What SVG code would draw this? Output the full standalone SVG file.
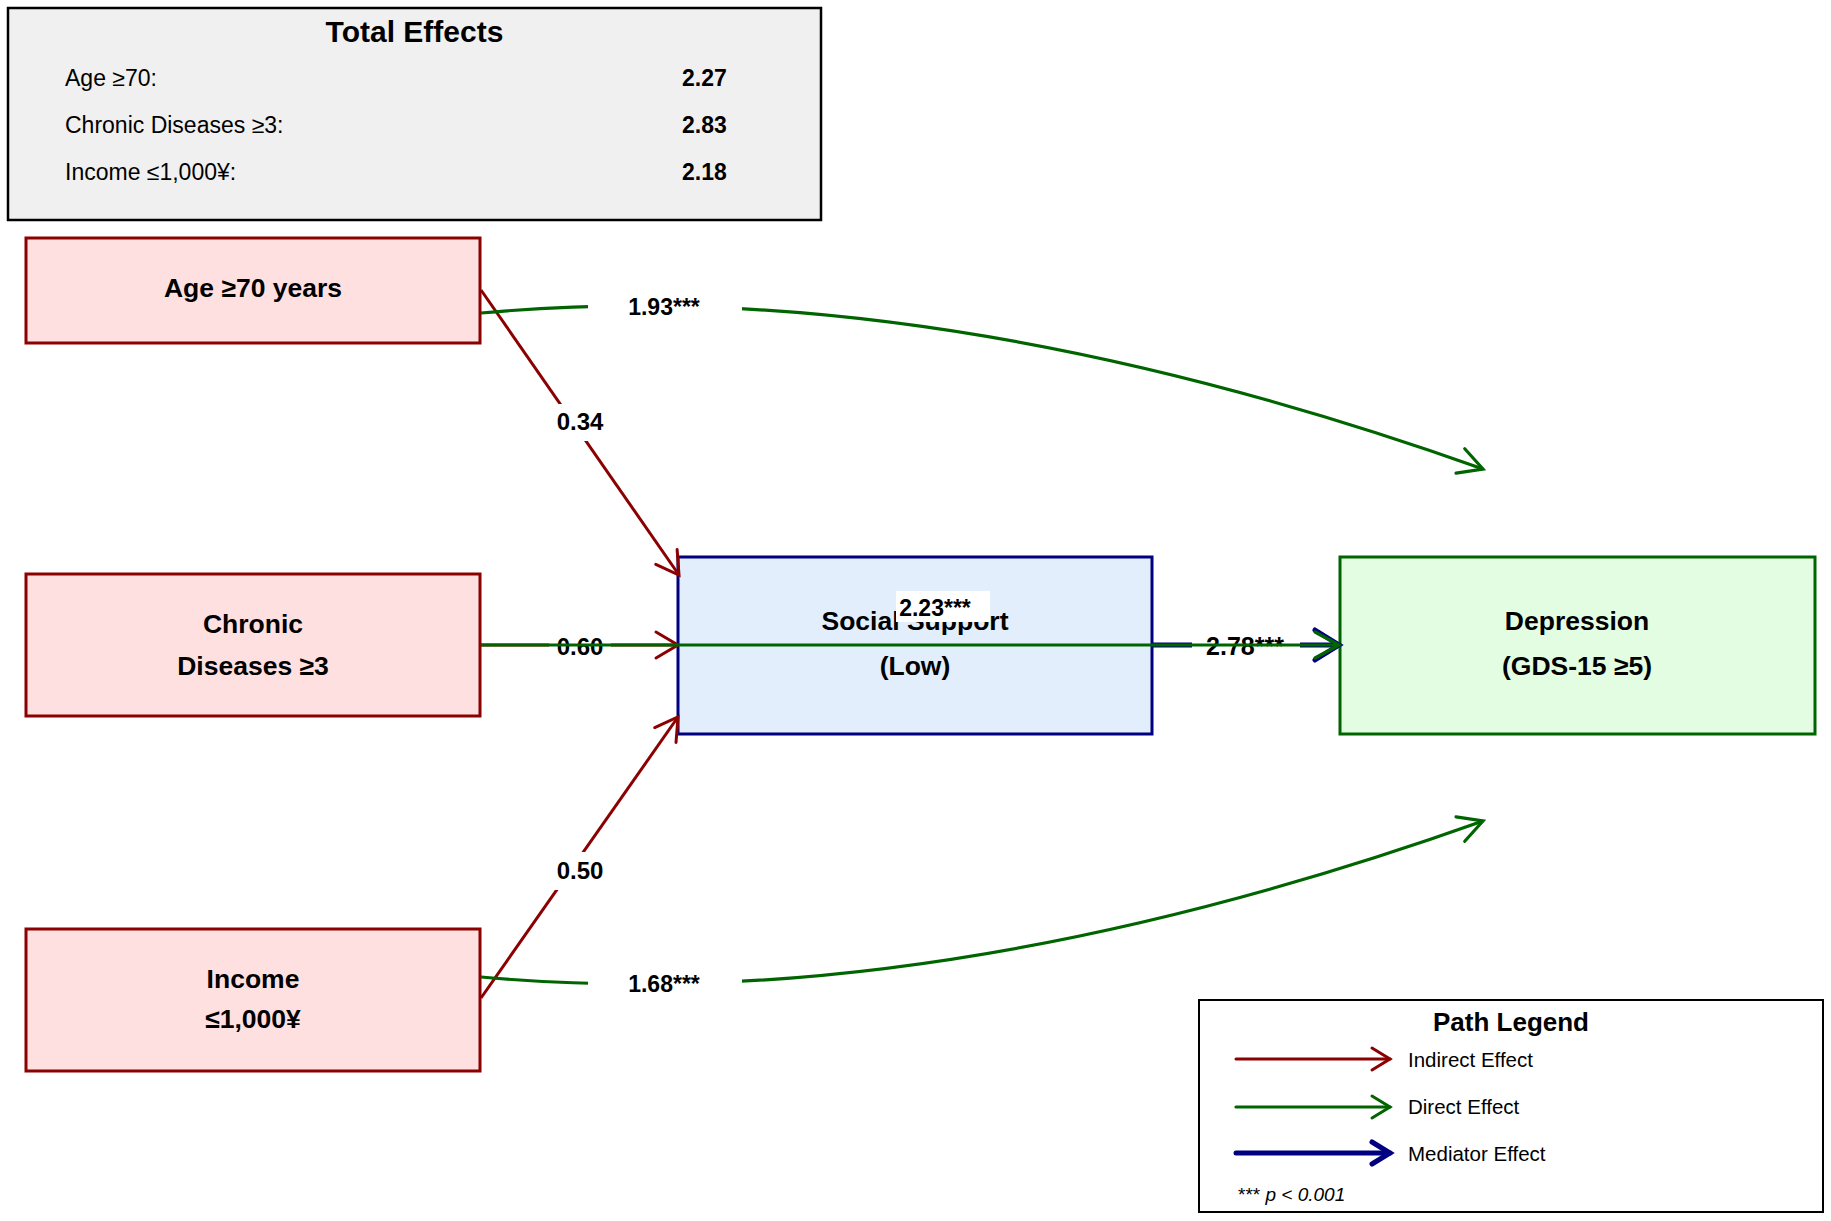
<svg xmlns="http://www.w3.org/2000/svg" width="1831" height="1221" viewBox="0 0 1831 1221">
<style>
text{font-family:"Liberation Sans",Arial,sans-serif;fill:#000}
.node{stroke-width:3}
.iv{fill:#ffe0e0;stroke:#8b0000}
.med{fill:#e2eefc;stroke:#000080}
.dv{fill:#e2fde2;stroke:#006400}
.nl{font-size:26.5px;font-weight:bold;text-anchor:middle}
.el{font-size:23px;font-weight:bold;text-anchor:middle}
.el2{font-size:24px;font-weight:bold;text-anchor:middle}
.red{stroke:#8b0000;stroke-width:3;fill:none}
.grn{stroke:#006400;stroke-width:3.2;fill:none}
.nav{stroke:#000080;stroke-width:5;fill:none}
.lbg{fill:#fff;stroke:none}
.row{font-size:23px}
.val{font-size:23px;font-weight:bold}
.leg{font-size:20.5px}
</style>
<defs>
<marker id="aRed" markerUnits="userSpaceOnUse" markerWidth="40" markerHeight="40" orient="auto" overflow="visible">
<path d="M-22,-13 L0,0 L-22,13" fill="none" stroke="#8b0000" stroke-width="3" stroke-linecap="round"/>
</marker>
<marker id="aGrn" markerUnits="userSpaceOnUse" markerWidth="40" markerHeight="40" orient="auto" overflow="visible">
<path d="M-24,-13 L0,0 L-24,13" fill="none" stroke="#006400" stroke-width="3.2" stroke-linecap="round"/>
</marker>
<marker id="aNav" markerUnits="userSpaceOnUse" markerWidth="40" markerHeight="40" orient="auto" overflow="visible">
<path d="M-24,-15 L0,0 L-24,15" fill="none" stroke="#000080" stroke-width="5" stroke-linecap="round"/>
</marker>
<marker id="aRedS" markerUnits="userSpaceOnUse" markerWidth="40" markerHeight="40" orient="auto" overflow="visible">
<path d="M-18,-11 L0,0 L-18,11" fill="none" stroke="#8b0000" stroke-width="3" stroke-linecap="round"/>
</marker>
<marker id="aGrnS" markerUnits="userSpaceOnUse" markerWidth="40" markerHeight="40" orient="auto" overflow="visible">
<path d="M-18,-11 L0,0 L-18,11" fill="none" stroke="#006400" stroke-width="3" stroke-linecap="round"/>
</marker>
<marker id="aNavS" markerUnits="userSpaceOnUse" markerWidth="40" markerHeight="40" orient="auto" overflow="visible">
<path d="M-18,-11 L0,0 L-18,11" fill="none" stroke="#000080" stroke-width="5" stroke-linecap="round"/>
</marker>
</defs>
<rect width="1831" height="1221" fill="#fff"/>

<g id="total-effects">
<rect x="8" y="8" width="813" height="212" fill="#f0f0f0" stroke="#000" stroke-width="2.5"/>
<text x="414.5" y="42" font-size="30" font-weight="bold" text-anchor="middle">Total Effects</text>
<text class="row" x="65" y="86">Age ≥70:</text>
<text class="val" x="682" y="86">2.27</text>
<text class="row" x="65" y="133">Chronic Diseases ≥3:</text>
<text class="val" x="682" y="133">2.83</text>
<text class="row" x="65" y="180">Income ≤1,000¥:</text>
<text class="val" x="682" y="180">2.18</text>
</g>

<g id="node-age">
<rect class="node iv" x="26" y="238" width="454" height="105"/>
<text class="nl" x="253" y="297">Age ≥70 years</text>
</g>
<g id="node-chronic">
<rect class="node iv" x="26" y="574" width="454" height="142"/>
<text class="nl" x="253" y="633">Chronic</text>
<text class="nl" x="253" y="675">Diseases ≥3</text>
</g>
<g id="node-income">
<rect class="node iv" x="26" y="929" width="454" height="142"/>
<text class="nl" x="253" y="988">Income</text>
<text class="nl" x="253" y="1028">≤1,000¥</text>
</g>
<g id="node-social-support">
<rect class="node med" x="678" y="557" width="474" height="177"/>
<text class="nl" x="915" y="630">Social Support</text>
<text class="nl" x="915" y="675">(Low)</text>
</g>
<g id="node-depression">
<rect class="node dv" x="1340" y="557" width="475" height="177"/>
<text class="nl" x="1577" y="630">Depression</text>
<text class="nl" x="1577" y="675">(GDS-15 ≥5)</text>
</g>

<g id="connectors">
<!-- indirect effects -->
<path class="red" d="M481,290 L679,575" marker-end="url(#aRed)"/>
<rect class="lbg" x="549" y="404" width="62" height="37"/>
<text class="el2" x="580" y="430">0.34</text>
<path class="red" d="M481,645 L678,645" marker-end="url(#aRed)"/>
<rect class="lbg" x="549" y="628" width="62" height="35"/>
<text class="el2" x="580" y="655">0.60</text>
<path class="red" d="M481,998 L678,717" marker-end="url(#aRed)"/>
<rect class="lbg" x="549" y="852" width="62" height="38"/>
<text class="el2" x="580" y="879">0.50</text>
<!-- mediator -->
<path class="nav" d="M1152,645 L1339,645" marker-end="url(#aNav)"/>
<rect class="lbg" x="1192" y="628" width="108" height="36"/>
<text x="1245" y="655" font-size="25" font-weight="bold" text-anchor="middle">2.78***</text>
<!-- direct effects -->
<path class="grn" d="M481,313 Q930,272 1483,469" marker-end="url(#aGrn)"/>
<rect class="lbg" x="588" y="291" width="154" height="33"/>
<text class="el" x="664" y="315">1.93***</text>
<path class="grn" d="M481,977 Q930,1018 1483,821" marker-end="url(#aGrn)"/>
<rect class="lbg" x="588" y="967" width="154" height="33"/>
<text class="el" x="664" y="992">1.68***</text>
<path class="grn" d="M481,645 L1339,645" marker-end="url(#aGrn)"/>
<rect class="lbg" x="896" y="591" width="94" height="31"/>
<text class="el" x="935" y="616">2.23***</text>
</g>

<g id="legend">
<rect x="1199" y="1000" width="624" height="212" fill="#fff" stroke="#000" stroke-width="2"/>
<text x="1511" y="1031" font-size="26" font-weight="bold" text-anchor="middle">Path Legend</text>
<path class="red" d="M1236,1059 L1390,1059" marker-end="url(#aRedS)" stroke-linecap="round"/>
<text class="leg" x="1408" y="1067">Indirect Effect</text>
<path class="grn" d="M1236,1107 L1390,1107" marker-end="url(#aGrnS)" stroke-linecap="round"/>
<text class="leg" x="1408" y="1114">Direct Effect</text>
<path class="nav" d="M1236,1153 L1390,1153" marker-end="url(#aNavS)" stroke-linecap="round"/>
<text class="leg" x="1408" y="1161">Mediator Effect</text>
<text x="1238" y="1201" font-size="19">*** <tspan font-style="italic">p &lt; 0.001</tspan></text>
</g>
</svg>
